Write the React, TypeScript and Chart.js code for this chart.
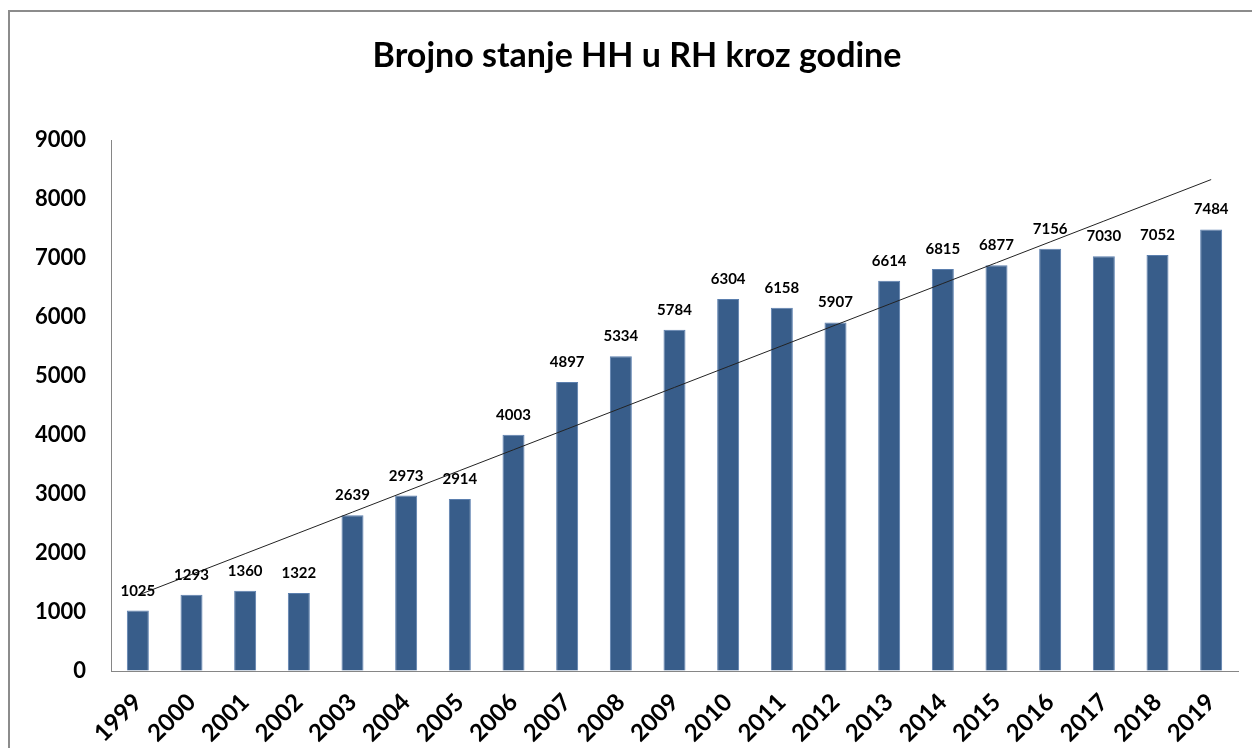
import React, { useEffect, useRef } from 'react';
import { Chart, registerables } from 'chart.js';

Chart.register(...registerables);

const TITLE = 'Brojno stanje HH u RH kroz godine';
const YEARS = [
  '1999', '2000', '2001', '2002', '2003', '2004', '2005', '2006', '2007', '2008', '2009',
  '2010', '2011', '2012', '2013', '2014', '2015', '2016', '2017', '2018', '2019',
];
const MEMBERS = [
  1025, 1293, 1360, 1322, 2639, 2973, 2914, 4003, 4897, 5334, 5784,
  6304, 6158, 5907, 6614, 6815, 6877, 7156, 7030, 7052, 7484,
];
const Y_MIN = 0;
const Y_MAX = 9000;
const Y_STEP = 1000;

// Linear trendline (least squares), as the spreadsheet trendline does
function linearTrend(values: number[]): number[] {
  const n = values.length;
  const mx = (n - 1) / 2;
  const my = values.reduce((a, b) => a + b, 0) / n;
  let num = 0;
  let den = 0;
  values.forEach((v, i) => {
    num += (i - mx) * (v - my);
    den += (i - mx) * (i - mx);
  });
  const slope = num / den;
  return values.map((_, i) => my + slope * (i - mx));
}

const FONT = 'Lato, "Open Sans", sans-serif';

const overlayPlugin = {
  id: 'overlay',
  afterDatasetsDraw(chart: any) {
    const ctx = chart.ctx;
    const meta = chart.getDatasetMeta(0);
    ctx.save();
    ctx.font = `bold 15px ${FONT}`;
    ctx.fillStyle = '#000';
    ctx.textAlign = 'center';
    ctx.textBaseline = 'alphabetic';
    meta.data.forEach((el: any, i: number) => {
      ctx.fillText(String(MEMBERS[i]), el.x, el.y - 15);
    });
    ctx.font = `bold 34px ${FONT}`;
    ctx.textBaseline = 'alphabetic';
    ctx.fillText(TITLE, 637, 67);
    ctx.restore();
  },
};

export default function App() {
  const ref = useRef<HTMLCanvasElement>(null);

  useEffect(() => {
    if (!ref.current) return;
    const chart = new Chart(ref.current, {
      type: 'bar',
      data: {
        labels: YEARS,
        datasets: [
          {
            type: 'bar',
            data: MEMBERS,
            backgroundColor: '#385D8A',
            borderColor: '#5B7FAE',
            borderWidth: 1,
            categoryPercentage: 1,
            barPercentage: 0.41,
            order: 2,
          } as any,
          {
            type: 'line',
            data: linearTrend(MEMBERS),
            borderColor: '#222',
            borderWidth: 1,
            pointRadius: 0,
            fill: false,
            order: 1,
          } as any,
        ],
      },
      options: {
        animation: false,
        responsive: false,
        devicePixelRatio: 1,
        layout: { padding: { top: 140, left: 0, right: 14, bottom: 0 } },
        plugins: {
          legend: { display: false },
          title: { display: false },
          tooltip: { enabled: false },
        },
        scales: {
          x: {
            grid: { display: true, drawOnChartArea: false, drawTicks: false },
            border: { display: true, color: '#868686', width: 1 },
            ticks: {
              color: '#000',
              font: { family: FONT, size: 24, weight: 'bold' },
              minRotation: 45,
              maxRotation: 45,
              padding: 17,
            },
            afterFit(scale: any) {
              scale.height = 77;
            },
          },
          y: {
            min: Y_MIN,
            max: Y_MAX,
            grid: { display: true, drawOnChartArea: false, drawTicks: false },
            border: { display: true, color: '#868686', width: 1 },
            ticks: {
              stepSize: Y_STEP,
              color: '#000',
              font: { family: FONT, size: 22, weight: 'bold' },
              padding: 25,
              callback: (v: any) => String(v),
            },
            afterFit(scale: any) {
              scale.width = 111;
            },
          },
        },
      },
      plugins: [overlayPlugin],
    });
    return () => chart.destroy();
  }, []);

  return (
    <div style={{ position: 'fixed', left: 0, top: 0, width: 1252, height: 748, overflow: 'hidden', background: '#fff' }}>
      <div
        style={{
          position: 'absolute',
          left: 8,
          top: 10,
          width: 1400,
          height: 900,
          border: '2px solid #8c8c8c',
          boxSizing: 'border-box',
        }}
      />
      <canvas
        ref={ref}
        width={1252}
        height={748}
        style={{ position: 'absolute', left: 0, top: 0, width: 1252, height: 748 }}
      />
    </div>
  );
}
